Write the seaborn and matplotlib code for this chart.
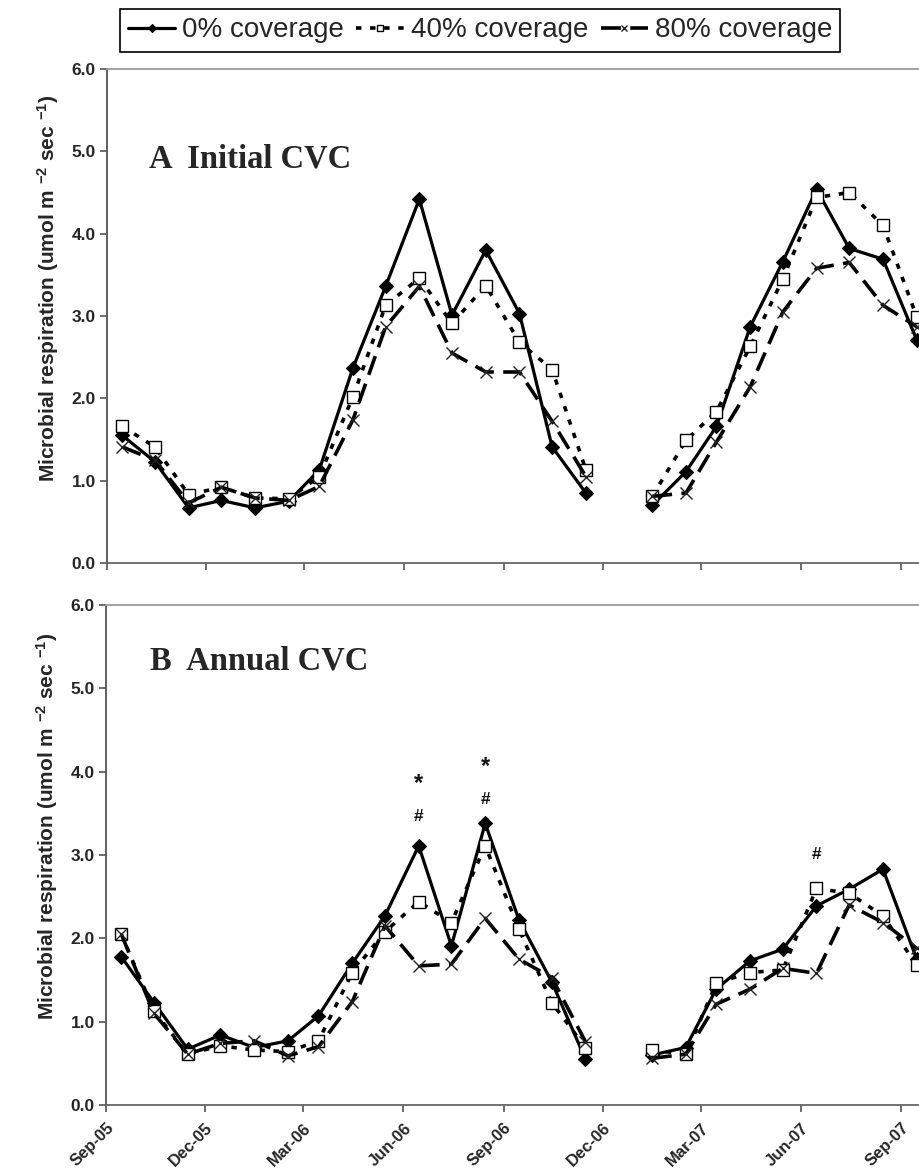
import numpy as np
import pandas as pd
import matplotlib
matplotlib.use('Agg')
import matplotlib.pyplot as plt
import matplotlib.dates as mdates
from matplotlib.lines import Line2D
import seaborn as sns

# fechas de muestreo (mitad de mes), sin dato en dic-06
fechas = ['2005-09-15', '2005-10-15', '2005-11-15', '2005-12-15', '2006-01-15',
          '2006-02-15', '2006-03-15', '2006-04-15', '2006-05-15', '2006-06-15',
          '2006-07-15', '2006-08-15', '2006-09-15', '2006-10-15', '2006-11-15',
          '2007-01-15', '2007-02-15', '2007-03-15', '2007-04-15', '2007-05-15',
          '2007-06-15', '2007-07-15', '2007-08-15', '2007-09-15']

# Panel A - Initial CVC
a_0 = [1.55, 1.23, 0.67, 0.76, 0.67, 0.75, 1.13, 2.37, 3.36, 4.42, 3.01, 3.80,
       3.03, 1.41, 0.85, 0.70, 1.11, 1.66, 2.87, 3.66, 4.54, 3.82, 3.69, 2.71]
a_40 = [1.66, 1.41, 0.83, 0.92, 0.79, 0.78, 1.05, 2.02, 3.13, 3.46, 2.91, 3.37,
        2.68, 2.35, 1.13, 0.81, 1.49, 1.84, 2.63, 3.45, 4.44, 4.50, 4.10, 2.99]
a_80 = [1.41, 1.25, 0.73, 0.92, 0.79, 0.76, 0.93, 1.74, 2.87, 3.36, 2.55, 2.32,
        2.32, 1.72, 1.05, 0.81, 0.85, 1.47, 2.14, 3.05, 3.58, 3.65, 3.13, 2.87]

# Panel B - Annual CVC
b_0 = [1.78, 1.23, 0.67, 0.84, 0.69, 0.77, 1.07, 1.70, 2.27, 3.11, 1.91, 3.38,
       2.22, 1.48, 0.55, 0.60, 0.69, 1.39, 1.73, 1.87, 2.39, 2.59, 2.83, 1.75]
b_40 = [2.05, 1.13, 0.61, 0.71, 0.66, 0.64, 0.77, 1.59, 2.08, 2.44, 2.19, 3.11,
        2.11, 1.23, 0.69, 0.66, 0.61, 1.46, 1.59, 1.62, 2.60, 2.54, 2.27, 1.68]
b_80 = [2.05, 1.10, 0.61, 0.74, 0.77, 0.59, 0.70, 1.24, 2.15, 1.67, 1.69, 2.24,
        1.75, 1.53, 0.76, 0.56, 0.61, 1.21, 1.39, 1.64, 1.58, 2.40, 2.19, 1.88]

# marcas de significancia en B: (fecha, texto, y)
marcas_b = [('2006-06-15', '*', 3.86), ('2006-06-15', '#', 3.46),
            ('2006-08-15', '*', 4.06), ('2006-08-15', '#', 3.67),
            ('2007-06-15', '#', 3.01)]

series = ['0% coverage', '40% coverage', '80% coverage']

estilos = {
    '0% coverage': dict(linestyle='-', linewidth=2.3, marker='D', markersize=7,
                        markerfacecolor='black', markeredgecolor='black', markeredgewidth=0.8),
    '40% coverage': dict(linestyle=(0, (1.5, 2.4)), linewidth=2.6, marker='s', markersize=8.5,
                         markerfacecolor='white', markeredgecolor='black', markeredgewidth=1.0),
    '80% coverage': dict(linestyle=(0, (5.5, 2.6)), linewidth=2.6, marker='x', markersize=8,
                         markerfacecolor='black', markeredgecolor='#222222', markeredgewidth=1.0),
}

sns.set_style('ticks')
plt.rcParams['font.family'] = ['Liberation Sans', 'DejaVu Sans']
plt.rcParams['mathtext.fontset'] = 'custom'
plt.rcParams['mathtext.rm'] = 'Liberation Sans:bold'
plt.rcParams['mathtext.default'] = 'rm'

fig = plt.figure(figsize=(9.2, 11.68), dpi=100)
ax_a = fig.add_axes([107 / 920, 1 - 563 / 1168, 1 - 107 / 920, 494 / 1168])
ax_b = fig.add_axes([106 / 920, 1 - 1105 / 1168, 1 - 106 / 920, 500 / 1168])

x = pd.to_datetime(pd.Series(fechas))
tramo = (x.diff().dt.days > 40).cumsum()


def dibujar(ax, valores):
    for nombre, vals in zip(series, valores):
        df = pd.DataFrame({'fecha': x, 'valor': vals, 'tramo': tramo})
        for _, sub in df.groupby('tramo'):
            sns.lineplot(data=sub, x='fecha', y='valor', ax=ax, color='black',
                         legend=False, errorbar=None, sort=False, **estilos[nombre])


dibujar(ax_a, [a_0, a_40, a_80])
dibujar(ax_b, [b_0, b_40, b_80])

for ax in (ax_a, ax_b):
    ax.set_xlim(pd.Timestamp('2005-09-01'), pd.Timestamp('2007-09-18'))
    ax.set_ylim(0, 6)
    ax.set_yticks(np.arange(0, 6.1, 1.0))
    ax.yaxis.set_major_formatter(matplotlib.ticker.FormatStrFormatter('%.1f'))
    ax.xaxis.set_major_locator(mdates.MonthLocator(bymonth=[3, 6, 9, 12], bymonthday=1))
    ax.xaxis.set_major_formatter(mdates.DateFormatter('%b-%y'))
    ax.spines['right'].set_visible(False)
    ax.spines['top'].set_color('#9a9a9a')
    ax.spines['left'].set_color('#555555')
    ax.spines['bottom'].set_color('#666666')
    for s in ('top', 'left', 'bottom'):
        ax.spines[s].set_linewidth(1.3)
    ax.tick_params(direction='out', length=5, width=1.2, color='#555555',
                   labelsize=12.5, pad=3)
    for lbl in ax.get_yticklabels():
        lbl.set_fontweight('bold')
    ax.set_xlabel('')
    ax.set_ylabel('Microbial respiration (umol m $^{-2}$ sec $^{-1}$)',
                  fontsize=15, fontweight='bold')
    ax.yaxis.set_label_coords(-0.057, 0.557)

ax_a.tick_params(axis='x', labelbottom=False)
for lbl in ax_b.get_xticklabels():
    lbl.set_rotation(45)
    lbl.set_ha('right')
    lbl.set_va('top')
    lbl.set_rotation_mode('anchor')
    lbl.set_fontweight('bold')
    lbl.set_fontsize(12)
ax_b.tick_params(axis='x', pad=6)

ax_a.text(0.052, 0.80, 'A  Initial CVC', transform=ax_a.transAxes, fontsize=23.5,
          fontweight='bold', family='Liberation Serif', va='baseline', ha='left')
ax_b.text(0.054, 0.871, 'B  Annual CVC', transform=ax_b.transAxes, fontsize=23.5,
          fontweight='bold', family='Liberation Serif', va='baseline', ha='left')

for f, t, yv in marcas_b:
    ax_b.text(pd.Timestamp(f), yv, t, ha='center', va='center',
              fontsize=17 if t == '*' else 12.5, fontweight='bold', color='#111111')

# leyenda superior
handles = []
for nombre in series:
    e = dict(estilos[nombre])
    e['markersize'] = e['markersize'] * 0.55
    handles.append(Line2D([], [], color='black', **e))
fig.legend(handles, series, loc='upper center', bbox_to_anchor=(480 / 920, 1 - 9 / 1168),
           ncol=3, frameon=True, fancybox=False, edgecolor='black', fontsize=20,
           handlelength=1.7, handletextpad=0.25, columnspacing=0.45, borderpad=0.3,
           borderaxespad=0, framealpha=1)
fig.legends[0].get_frame().set_linewidth(1.2)

plt.savefig('out.png', dpi=100)
